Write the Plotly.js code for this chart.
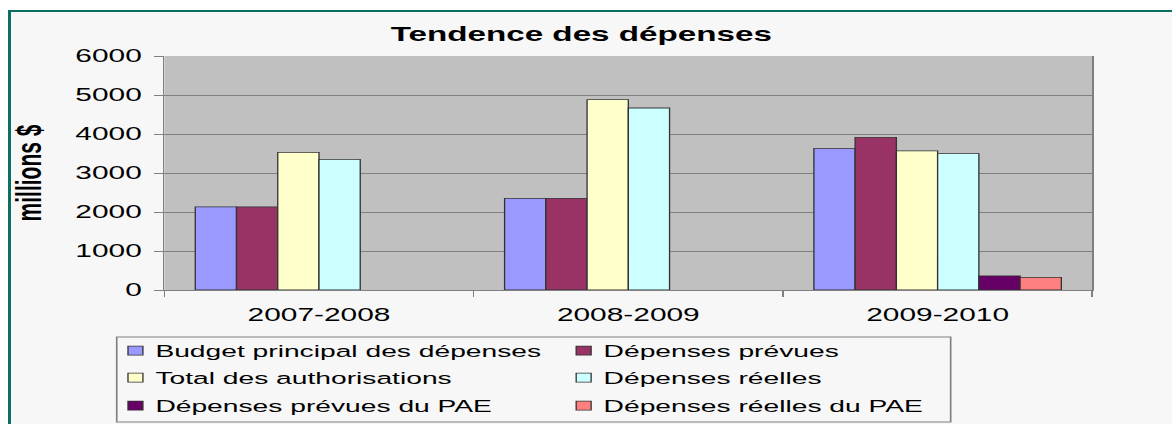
<!DOCTYPE html>
<html><head><meta charset="utf-8">
<script src="https://cdn.plot.ly/plotly-3.0.1.min.js"></script>
<style>
html,body{margin:0;padding:0;background:#fff;width:1172px;height:424px;overflow:hidden;}
#frame{position:absolute;left:8px;top:10px;width:1200px;height:440px;background:#f7f7f7;border-left:3px solid #0b6e60;border-top:2px solid #0b6e60;}
#chart{position:absolute;left:0;top:0;width:706px;height:424px;transform:scaleX(1.66);transform-origin:0 0;}
</style></head><body>
<div id="frame"></div><div id="chart"></div>
<script>
const categories = ['2007-2008', '2008-2009', '2009-2010'];
const seriesNames = ['Budget principal des dépenses', 'Dépenses prévues', 'Total des authorisations', 'Dépenses réelles', 'Dépenses prévues du PAE', 'Dépenses réelles du PAE'];
const budgetPrincipal = [2130, 2350, 3630];
const depensesPrevues = [2130, 2350, 3915];
const totalAutorisations = [3530, 4880, 3565];
const depensesReelles = [3350, 4667, 3495];
const depensesPrevuesPAE = [null, null, 360];
const depensesReellesPAE = [null, null, 325];
const seriesColors = ['#9999ff', '#993366', '#ffffcc', '#ccffff', '#660066', '#ff8080'];
const yTicks = [0, 1000, 2000, 3000, 4000, 5000, 6000];

const seriesValues = [budgetPrincipal, depensesPrevues, totalAutorisations, depensesReelles, depensesPrevuesPAE, depensesReellesPAE];
const FONT = '"Liberation Sans", Arial, sans-serif';
const legendIds = ['legend', 'legend', 'legend2', 'legend2', 'legend3', 'legend3'];

const data = seriesValues.map((vals, i) => ({
  type: 'bar',
  name: seriesNames[i],
  x: categories,
  y: vals,
  legend: legendIds[i],
  marker: {color: seriesColors[i], line: {color: '#333333', width: 0.8}},
  hoverinfo: 'none'
}));

function legendRow(rowCenterPx) {
  return {orientation: 'h', xref: 'container', yref: 'container',
          x: 53.6 / 706, xanchor: 'left', y: 1 - rowCenterPx / 424, yanchor: 'middle',
          entrywidth: 225, entrywidthmode: 'pixels', traceorder: 'normal',
          font: {size: 17, family: FONT, color: '#000'}, bgcolor: 'rgba(0,0,0,0)', borderwidth: 0};
}

const layout = {
  width: 706, height: 424,
  margin: {l: 99, r: 48, t: 56, b: 134},
  paper_bgcolor: 'rgba(0,0,0,0)',
  plot_bgcolor: '#c0c0c0',
  font: {family: FONT, color: '#000'},
  title: {text: 'Tendence des dépenses', font: {size: 20, weight: 'bold', family: FONT, color: '#000'},
          x: 0.496, xanchor: 'center', y: 0.92, yanchor: 'middle'},
  barmode: 'group', bargap: 0.2, bargroupgap: 0,
  xaxis: {type: 'category', tickson: 'boundaries', ticks: 'outside', ticklen: 6, tickcolor: '#808080',
          showline: true, linecolor: '#808080', linewidth: 1, tickfont: {size: 18, family: FONT, color: '#000'},
          ticklabelstandoff: 8, showgrid: false, automargin: false, fixedrange: true},
  yaxis: {range: [0, 6000], tickvals: yTicks, ticktext: yTicks.map(String), ticks: 'outside', ticklen: 5,
          tickcolor: '#808080', showline: true, linecolor: '#808080', linewidth: 1, mirror: true,
          gridcolor: '#808080', gridwidth: 1, zeroline: false,
          tickfont: {size: 18, family: FONT, color: '#000'}, ticklabelstandoff: 4,
          title: {text: 'millions $', font: {size: 21, weight: 'bold', family: FONT, color: '#000'}, standoff: 14},
          automargin: false, fixedrange: true},
  showlegend: true,
  legend: legendRow(351),
  legend2: legendRow(378),
  legend3: legendRow(406),
  shapes: [{type: 'rect', xref: 'paper', yref: 'paper', x0: -0.0513, x1: 0.8474, y0: -0.564, y1: -0.2009,
            line: {color: '#808080', width: 1}, fillcolor: 'rgba(0,0,0,0)', layer: 'below'}]
};

function shrinkSymbols(gd) {
  gd.querySelectorAll('.legendpoints path').forEach(el => el.setAttribute('d', 'M12.5,4.5H3.5V-4.5H12.5Z'));
}
Plotly.newPlot('chart', data, layout, {staticPlot: true, displayModeBar: false}).then(gd => {
  shrinkSymbols(gd);
  setTimeout(() => shrinkSymbols(gd), 50);
});
</script>
</body></html>
